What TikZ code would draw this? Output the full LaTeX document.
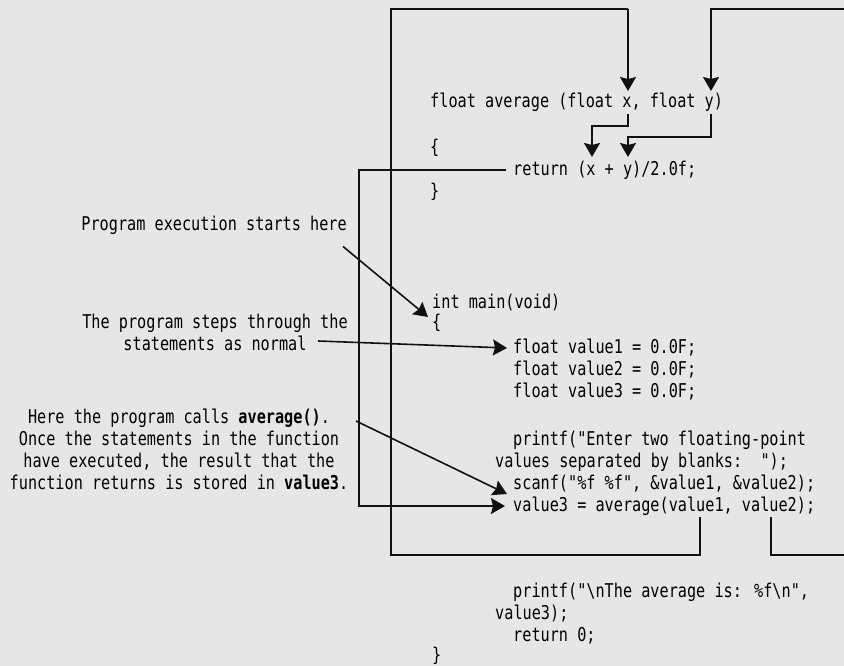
\documentclass[tikz,border=0pt]{standalone}
\usepackage{fontspec}
\newfontfamily\codefont[FakeStretch=0.80]{DejaVu Sans Mono}
\usepackage{xcolor}
\definecolor{cBack}{HTML}{E6E6E6}
\definecolor{cLine}{HTML}{111111}
\usetikzlibrary{arrows.meta}
\tikzset{
  code-line/.style={font=\codefont\fontsize{19}{22}\selectfont,anchor=west,inner sep=0pt},
  note-text/.style={font=\codefont\fontsize{19}{22}\selectfont,align=center,inner sep=0pt},
  flow/.style={draw=cLine,line width=1.6pt,-{Stealth[length=14pt,width=16pt,inset=2pt]}},
  wire/.style={draw=cLine,line width=1.6pt},
}

\begin{document}
\begin{tikzpicture}[x=1pt,y=-1pt]
  \fill[cBack] (0,0) rectangle (844,666);
  \useasboundingbox (0,0) rectangle (844,666);

  % the function
  \node[code-line] (sig) at (430,102) {float average (float x, float y)};
  \node[code-line] (fopen) at (430,148) {\{};
  \node[code-line] (ret) at (513,170) {return (x + y)/2.0f;};
  \node[code-line] (fclose) at (430,192) {\}};

  % main()
  \node[code-line] (mainhead) at (432,303) {int main(void)};
  \node[code-line] (mopen) at (432,323) {\{};
  \node[code-line] (val1) at (513,348) {float value1 = 0.0F;};
  \node[code-line] (val2) at (513,370) {float value2 = 0.0F;};
  \node[code-line] (val3) at (513,392) {float value3 = 0.0F;};
  \node[code-line] (prompt) at (513,440) {printf("Enter two floating-point};
  \node[code-line] (prompt2) at (495,462) {values separated by blanks:\ \ ");};
  \node[code-line] (scan) at (513,484) {scanf("\%f \%f", \&value1, \&value2);};
  \node[code-line] (call) at (513,506) {value3 = average(value1, value2);};
  \node[code-line] (out) at (513,592) {printf("\textbackslash nThe average is: \%f\textbackslash n",};
  \node[code-line] (out2) at (495,614) {value3);};
  \node[code-line] (ret0) at (513,636) {return 0;};
  \node[code-line] (mclose) at (432,656) {\}};

  % notes on the left
  \node[note-text,anchor=east] (nstart) at (347,225) {Program execution starts here};
  \node[note-text] (nsteps) at (215,332) {The program steps through the\\statements as normal};
  \node[note-text] (ncall) at (179,449) {Here the program calls \textbf{average()}.\\Once the statements in the function\\have executed, the result that the\\function returns is stored in \textbf{value3}.};

  % argument x goes in
  \draw[wire] (700,517) -- (700,555) -- (391,555) -- (391,9) -- (628,9);
  \draw[flow] (628,9) -- (628,91);
  % argument y goes in
  \draw[wire] (771,517) -- (771,555) -- (844,555);
  \draw[flow] (844,9) -- (711,9) -- (711,91);
  % x and y used in return
  \draw[flow] (628,114) -- (628,126) -- (592,126) -- (592,157);
  \draw[flow] (711,114) -- (711,137) -- (628,137) -- (628,157);
  % result back to the call
  \draw[flow] ([xshift=-7pt]ret.west) -- (359,170) |- ([xshift=-8pt]call.west);

  % note arrows
  \draw[flow] (nstart.south east) ++(-4,12) -- (428,317);
  \draw[flow] (318,341) -- ([xshift=-6pt]val1.west);
  \draw[flow] (356,421) -- (507,494);
\end{tikzpicture}
\end{document}
